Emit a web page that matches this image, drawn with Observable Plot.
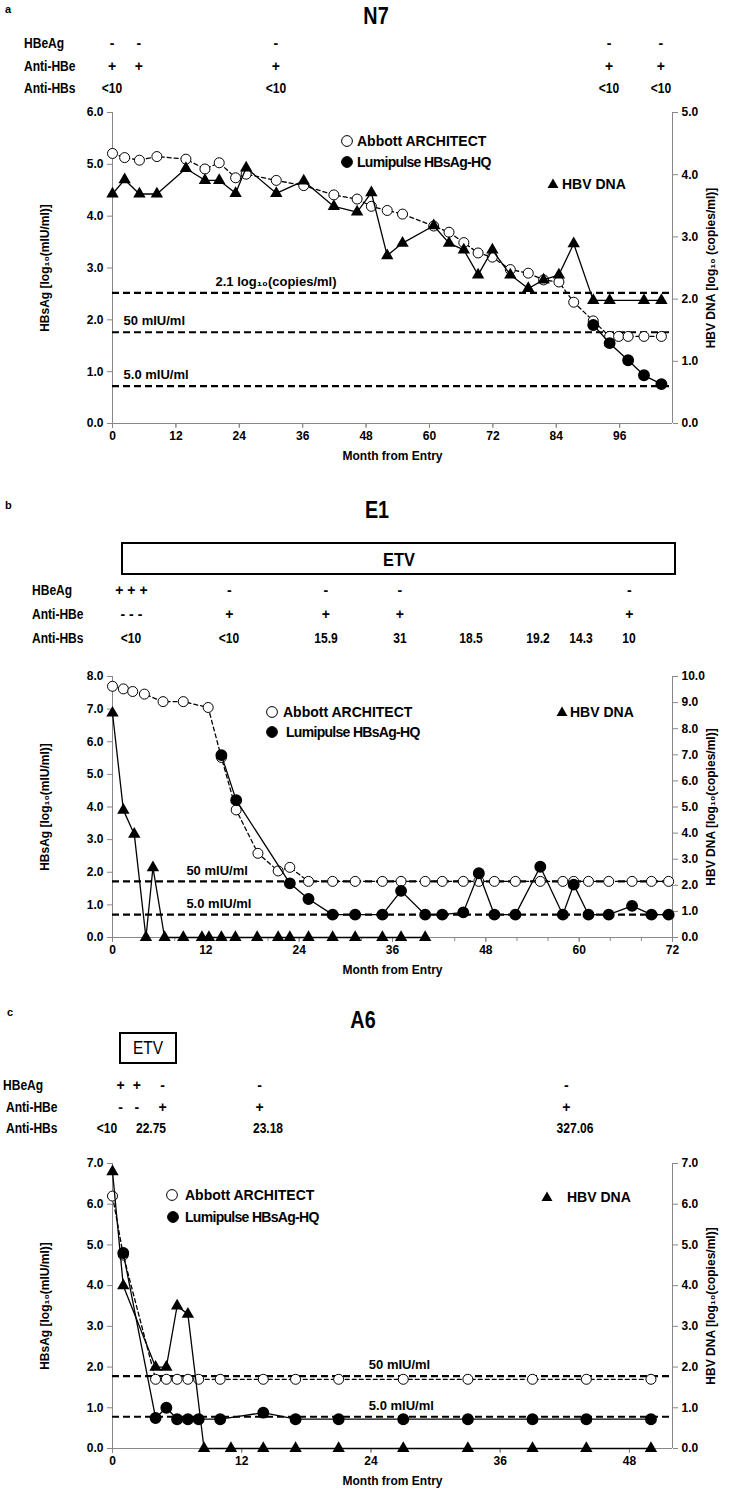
<!DOCTYPE html>
<html><head><meta charset="utf-8">
<script src="https://cdn.jsdelivr.net/npm/d3@7"></script>
<script src="https://cdn.jsdelivr.net/npm/@observablehq/plot@0.6"></script>
<style>
body{margin:0;background:#fff;}
#root{position:relative;width:742px;height:1497px;overflow:hidden;color:#000;}
.t{position:absolute;white-space:nowrap;line-height:1;}
#root > svg{position:absolute;left:0;}
</style></head><body><div id="root"></div><script>
// ---------- Panel a (N7) ----------
const a_month = [0, 2.3, 5.1, 8.4, 13.9, 17.5, 20.2, 23.3, 25.3, 31, 36.2, 41.9, 46.3, 49, 52, 54.9, 60.8, 63.7, 66.5, 69.2, 71.9, 75.3, 78.7, 81.6, 84.5, 87.3, 91, 94.1, 95.8, 97.6, 100.6, 103.9];
const a_abbott = [5.21, 5.13, 5.08, 5.15, 5.10, 4.91, 5.03, 4.74, 4.81, 4.69, 4.59, 4.41, 4.33, 4.19, 4.11, 4.04, 3.81, 3.69, 3.49, 3.29, 3.21, 2.97, 2.90, 2.77, 2.73, 2.34, 1.98, 1.68, 1.68, 1.68, 1.68, 1.68];
const a_lumi_month = [91, 94.1, 97.6, 100.6, 103.9];
const a_lumi = [1.90, 1.55, 1.22, 0.93, 0.76];
const a_dna_month = [0, 2.3, 5.1, 8.4, 13.9, 17.5, 20.2, 23.3, 25.3, 31, 36.2, 41.9, 46.3, 49, 52, 54.9, 60.8, 63.7, 66.5, 69.2, 71.9, 75.3, 78.7, 81.6, 84.5, 87.3, 91, 94.1, 100.6, 103.9];
const a_dna = [3.69, 3.92, 3.69, 3.69, 4.10, 3.91, 3.91, 3.70, 4.11, 3.70, 3.90, 3.49, 3.40, 3.71, 2.70, 2.90, 3.18, 2.90, 2.79, 2.39, 2.79, 2.39, 2.17, 2.31, 2.39, 2.89, 1.98, 1.98, 1.98, 1.98];
const a_hdr_month = [0, 5.1, 31, 94.1, 103.9];
const a_hbeag = ["-", "-", "-", "-", "-"];
const a_antihbe = ["+", "+", "+", "+", "+"];
const a_antihbs = ["<10", "", "<10", "<10", "<10"];
const a_thr_values = [2.52, 1.76, 0.72];
const a_thr_labels = ["2.1 log\u2081\u2080(copies/ml)", "50 mIU/ml", "5.0 mIU/ml"];
const a_thr_label_month = [19.5, 2.1, 2.1];
const a_xticks = [0, 12, 24, 36, 48, 60, 72, 84, 96];
const a_left_ticks = [0, 1, 2, 3, 4, 5, 6];
const a_right_ticks = [0, 1, 2, 3, 4, 5];

// ---------- Panel b (E1) ----------
const b_abbott_month = [0, 1.4, 2.6, 4.1, 6.5, 9.1, 12.3, 14, 15.9, 18.7, 21.3, 22.8, 25.2, 28.3, 31.2, 34.7, 37.1, 40.2, 42.4, 45.1, 47.1, 49.1, 51.8, 55, 57.9, 59.3, 61.2, 63.8, 66.8, 69.3, 71.5];
const b_abbott = [7.70, 7.62, 7.54, 7.46, 7.23, 7.23, 7.05, 5.52, 3.91, 2.58, 2.04, 2.15, 1.72, 1.72, 1.72, 1.72, 1.72, 1.72, 1.72, 1.72, 1.72, 1.72, 1.72, 1.72, 1.72, 1.72, 1.72, 1.72, 1.72, 1.72, 1.72];
const b_lumi_month = [14, 15.9, 22.8, 25.2, 28.3, 31.2, 34.7, 37.1, 40.2, 42.4, 45.1, 47.1, 49.1, 51.8, 55, 57.9, 59.3, 61.2, 63.8, 66.8, 69.3, 71.5];
const b_lumi = [5.59, 4.21, 1.66, 1.18, 0.70, 0.70, 0.70, 1.43, 0.70, 0.70, 0.77, 1.97, 0.70, 0.70, 2.17, 0.70, 1.62, 0.70, 0.70, 0.97, 0.70, 0.70];
const b_dna_month = [0, 1.4, 2.8, 4.3, 5.2, 6.7, 9.1, 11.5, 12.4, 14, 15.8, 18.6, 21.3, 22.8, 25.2, 28.3, 31.2, 34.7, 37.1, 40.2];
const b_dna = [8.6, 4.88, 3.96, 0, 2.68, 0, 0, 0, 0, 0, 0, 0, 0, 0, 0, 0, 0, 0, 0, 0];
const b_hdr_month = [2.5, 15.1, 27.5, 37, 46.2, 54.8, 60.3, 66.5];
const b_hbeag = ["+ + +", "-", "-", "-", "", "", "", "-"];
const b_antihbe = ["- - -", "+", "+", "+", "", "", "", "+"];
const b_antihbs = ["<10", "<10", "15.9", "31", "18.5", "19.2", "14.3", "10"];
const b_etv_span = [1.1, 72.6];
const b_thr_values = [1.72, 0.70];
const b_thr_labels = ["50 mIU/ml", "5.0 mIU/ml"];
const b_thr_label_month = [9.5, 9.5];
const b_xticks = [0, 12, 24, 36, 48, 60, 72];
const b_left_ticks = [0, 1, 2, 3, 4, 5, 6, 7, 8];
const b_right_ticks = [0, 1, 2, 3, 4, 5, 6, 7, 8, 9, 10];

// ---------- Panel c (A6) ----------
const c_abbott_month = [0, 1, 4, 5, 6, 7, 8, 10, 14, 17, 21, 27, 33, 39, 44, 50];
const c_abbott = [6.2, 4.75, 1.7, 1.7, 1.7, 1.7, 1.7, 1.7, 1.7, 1.7, 1.7, 1.7, 1.7, 1.7, 1.7, 1.7];
const c_lumi_month = [1, 4, 5, 6, 7, 8, 10, 14, 17, 21, 27, 33, 39, 44, 50];
const c_lumi = [4.8, 0.75, 1.0, 0.72, 0.72, 0.72, 0.72, 0.88, 0.72, 0.72, 0.72, 0.72, 0.72, 0.72, 0.72];
const c_dna_month = [0, 1, 4, 5, 6, 7, 8.5, 11, 14, 17, 21, 27, 33, 39, 44, 50];
const c_dna = [6.8, 4.0, 2.0, 2.0, 3.5, 3.3, 0, 0, 0, 0, 0, 0, 0, 0, 0, 0];
const c_hbeag_month = [0.8, 2.3, 4.7, 13.7, 42.2];
const c_hbeag = ["+", "+", "-", "-", "-"];
const c_antihbe = ["-", "-", "+", "+", "+"];
const c_antihbs_month = [-0.5, 3.6, 14.5, 43];
const c_antihbs = ["<10", "22.75", "23.18", "327.06"];
const c_etv_span = [0.65, 6];
const c_thr_values = [1.78, 0.78];
const c_thr_labels = ["50 mIU/ml", "5.0 mIU/ml"];
const c_thr_label_month = [23.8, 23.8];
const c_xticks = [0, 12, 24, 36, 48];
const c_left_ticks = [0, 1, 2, 3, 4, 5, 6, 7];
const c_right_ticks = [0, 1, 2, 3, 4, 5, 6, 7];

const FONT = '"Liberation Sans",Arial,sans-serif';
const root = document.getElementById("root");

function txt(s, x, y, o = {}) {
  const d = document.createElement("div");
  d.className = "t";
  d.textContent = s;
  d.style.left = x + "px";
  d.style.top = y + "px";
  d.style.fontSize = (o.size || 13) + "px";
  d.style.fontWeight = o.weight || "bold";
  d.style.fontFamily = FONT;
  if (o.ls) d.style.letterSpacing = o.ls;
  const sx = o.sx || 1;
  const start = o.anchor === "start";
  d.style.transformOrigin = start ? "0 50%" : "50% 50%";
  d.style.transform = `translate(${start ? "0" : "-50%"},-50%) scaleX(${sx})`;
  root.appendChild(d);
  return d;
}
function marker(kind, x, y) {
  const ns = "http://www.w3.org/2000/svg";
  const s = document.createElementNS(ns, "svg");
  s.setAttribute("width", 14); s.setAttribute("height", 14);
  s.style.position = "absolute"; s.style.left = (x - 7) + "px"; s.style.top = (y - 7) + "px";
  let el;
  if (kind === "tri") {
    el = document.createElementNS(ns, "polygon");
    el.setAttribute("points", "7,1.5 12.5,11 1.5,11");
    el.setAttribute("fill", "black");
  } else {
    el = document.createElementNS(ns, "circle");
    el.setAttribute("cx", 7); el.setAttribute("cy", 7); el.setAttribute("r", 5.4);
    el.setAttribute("fill", kind === "open" ? "white" : "black");
    el.setAttribute("stroke", "black"); el.setAttribute("stroke-width", 1);
  }
  s.appendChild(el);
  root.appendChild(s);
}
function box(x0, x1, y0, y1, bw) {
  const d = document.createElement("div");
  d.style.position = "absolute";
  d.style.left = x0 + "px"; d.style.top = y0 + "px";
  d.style.width = (x1 - x0 - 2 * bw) + "px"; d.style.height = (y1 - y0 - 2 * bw) + "px";
  d.style.border = bw + "px solid black";
  root.appendChild(d);
}

function panel(cfg) {
  const abbott = cfg.abbottM.map((m, i) => ({m, v: cfg.abbott[i]}));
  const lumi = cfg.lumiM.map((m, i) => ({m, v: cfg.lumi[i]}));
  const dna = cfg.dnaM.map((m, i) => ({m, v: cfg.dna[i] * cfg.factor}));
  const thr = cfg.thrV.map((v, i) => ({v, m: cfg.thrM[i], t: cfg.thrL[i]}));
  const H = 12 + cfg.plotH + 44;
  const minor = d3.range(cfg.xDomain[0], cfg.xDomain[1] + 0.001, cfg.minorStep);
  const plot = Plot.plot({
    width: 742, height: H,
    marginLeft: 112, marginRight: 70, marginTop: 12, marginBottom: 44,
    x: {domain: cfg.xDomain},
    y: {domain: [0, cfg.yMax]},
    style: {fontFamily: FONT, fontSize: "11px", fontWeight: "bold", overflow: "visible", background: "transparent", color: "black"},
    marks: [
      Plot.axisX({ticks: minor, tickSize: 4, tickFormat: () => "", stroke: "#888", label: null}),
      Plot.axisX({ticks: cfg.xTicks, tickSize: 5, tickPadding: 3, stroke: "#888", fontSize: 12, label: "Month from Entry", labelAnchor: "center", labelOffset: 36, labelArrow: "none"}),
      Plot.axisY({ticks: cfg.leftTicks, tickFormat: d => d.toFixed(1), tickSize: 5, stroke: "#888", fontSize: 12, label: cfg.leftLabel, labelAnchor: "center", labelOffset: 72, labelArrow: "none"}),
      Plot.axisY({anchor: "right", ticks: cfg.rightTicks.map(v => v * cfg.factor), tickFormat: d => (d / cfg.factor).toFixed(1), tickSize: 5, stroke: "#888", fontSize: 12, label: cfg.rightLabel, labelAnchor: "center", labelOffset: 42, labelArrow: "none"}),
      Plot.ruleY([0], {stroke: "#888"}),
      Plot.ruleX(cfg.xDomain, {stroke: "#888"}),
      Plot.ruleY(thr, {y: "v", stroke: "black", strokeWidth: 2.2, strokeDasharray: "7,4"}),
      Plot.text(thr, {x: "m", y: "v", text: "t", dy: -11, textAnchor: "start", fontSize: 13}),
      Plot.line(abbott, {x: "m", y: "v", stroke: "black", strokeWidth: 1.3, strokeDasharray: "4,3"}),
      Plot.dot(abbott, {x: "m", y: "v", r: 5, fill: "white", stroke: "black", strokeWidth: 1}),
      Plot.line(lumi, {x: "m", y: "v", stroke: "black", strokeWidth: 1.3}),
      Plot.dot(lumi, {x: "m", y: "v", r: 5.2, fill: "black", stroke: "black"}),
      Plot.line(dna, {x: "m", y: "v", stroke: "black", strokeWidth: 1.3}),
      Plot.dot(dna, {x: "m", y: "v", symbol: "triangle", r: 4.6, fill: "black", stroke: "none"})
    ]
  });
  plot.style.top = (cfg.top - 12) + "px";
  root.appendChild(plot);
  const xs = plot.scale("x");
  return m => xs.apply(m);
}

const CX = 0.86; // condensed look of the original lettering
const HS = 14;   // header font size

// ---- Panel a ----
const xa = panel({
  top: 112, plotH: 311, xDomain: [0, 106], xTicks: a_xticks, minorStep: 12, yMax: 6, factor: 6 / 5,
  leftTicks: a_left_ticks, rightTicks: a_right_ticks,
  leftLabel: "HBsAg [log\u2081\u2080(mIU/ml)]", rightLabel: "HBV DNA [log\u2081\u2080 (copies/ml)]",
  abbottM: a_month, abbott: a_abbott, lumiM: a_lumi_month, lumi: a_lumi, dnaM: a_dna_month, dna: a_dna,
  thrV: a_thr_values, thrM: a_thr_label_month, thrL: a_thr_labels
});
txt("a", 5, 9, {size: 11, anchor: "start"});
txt("N7", 376, 16, {size: 23, sx: CX});
txt("HBeAg", 24, 43, {size: HS, anchor: "start", sx: CX});
txt("Anti-HBe", 24, 66, {size: HS, anchor: "start", sx: CX});
txt("Anti-HBs", 24, 88, {size: HS, anchor: "start", sx: CX});
a_hdr_month.forEach((m, i) => {
  txt(a_hbeag[i], xa(m), 43, {size: HS});
  txt(a_antihbe[i], xa(m), 66, {size: HS});
  if (a_antihbs[i]) txt(a_antihbs[i], xa(m), 88, {size: HS, sx: CX});
});
marker("open", 347, 141); txt("Abbott ARCHITECT", 357, 141, {size: 14, anchor: "start"});
marker("fill", 347, 162); txt("Lumipulse HBsAg-HQ", 357, 162, {size: 14, anchor: "start", ls: "-0.7px"});
marker("tri", 553, 184); txt("HBV DNA", 562, 184, {size: 14, anchor: "start"});

// ---- Panel b ----
const xb = panel({
  top: 676, plotH: 261, xDomain: [0, 72], xTicks: b_xticks, minorStep: 4, yMax: 8, factor: 8 / 10,
  leftTicks: b_left_ticks, rightTicks: b_right_ticks,
  leftLabel: "HBsAg [log\u2081\u2080(mIU/ml)]", rightLabel: "HBV DNA [log\u2081\u2080(copies/ml)]",
  abbottM: b_abbott_month, abbott: b_abbott, lumiM: b_lumi_month, lumi: b_lumi, dnaM: b_dna_month, dna: b_dna,
  thrV: b_thr_values, thrM: b_thr_label_month, thrL: b_thr_labels
});
txt("b", 5, 505, {size: 11, anchor: "start"});
txt("E1", 377, 510, {size: 23, sx: CX});
box(xb(b_etv_span[0]), xb(b_etv_span[1]), 542, 576, 2.5);
txt("ETV", (xb(b_etv_span[0]) + xb(b_etv_span[1])) / 2, 559, {size: 19, sx: CX});
txt("HBeAg", 32, 590, {size: HS, anchor: "start", sx: CX});
txt("Anti-HBe", 32, 614, {size: HS, anchor: "start", sx: CX});
txt("Anti-HBs", 32, 638, {size: HS, anchor: "start", sx: CX});
b_hdr_month.forEach((m, i) => {
  if (b_hbeag[i]) txt(b_hbeag[i], xb(m), 590, {size: HS});
  if (b_antihbe[i]) txt(b_antihbe[i], xb(m), 614, {size: HS});
  if (b_antihbs[i]) txt(b_antihbs[i], xb(m), 638, {size: HS, sx: CX});
});
marker("open", 272, 712); txt("Abbott  ARCHITECT", 283, 712, {size: 14, anchor: "start"});
marker("fill", 272, 732); txt("Lumipulse HBsAg-HQ", 286, 732, {size: 14, anchor: "start", ls: "-0.7px"});
marker("tri", 562, 712); txt("HBV DNA", 570, 712, {size: 14, anchor: "start"});

// ---- Panel c ----
const xc = panel({
  top: 1163, plotH: 285, xDomain: [0, 52], xTicks: c_xticks, minorStep: 12, yMax: 7, factor: 1,
  leftTicks: c_left_ticks, rightTicks: c_right_ticks,
  leftLabel: "HBsAg [log\u2081\u2080(mIU/ml)]", rightLabel: "HBV DNA [log\u2081\u2080(copies/ml)]",
  abbottM: c_abbott_month, abbott: c_abbott, lumiM: c_lumi_month, lumi: c_lumi, dnaM: c_dna_month, dna: c_dna,
  thrV: c_thr_values, thrM: c_thr_label_month, thrL: c_thr_labels
});
txt("c", 7, 1012, {size: 11, anchor: "start"});
txt("A6", 363, 1020, {size: 23, sx: CX});
box(xc(c_etv_span[0]), xc(c_etv_span[1]), 1032, 1064, 2);
txt("ETV", (xc(c_etv_span[0]) + xc(c_etv_span[1])) / 2, 1048, {size: 18, weight: "normal", sx: CX});
txt("HBeAg", 3, 1085, {size: HS, anchor: "start", sx: CX});
txt("Anti-HBe", 6, 1107, {size: HS, anchor: "start", sx: CX});
txt("Anti-HBs", 6, 1128, {size: HS, anchor: "start", sx: CX});
c_hbeag_month.forEach((m, i) => {
  txt(c_hbeag[i], xc(m), 1085, {size: HS});
  txt(c_antihbe[i], xc(m), 1107, {size: HS});
});
c_antihbs_month.forEach((m, i) => txt(c_antihbs[i], xc(m), 1128, {size: HS, sx: CX}));
marker("open", 172, 1195); txt("Abbott ARCHITECT", 185, 1195, {size: 14, anchor: "start"});
marker("fill", 173, 1217); txt("Lumipulse HBsAg-HQ", 185, 1217, {size: 14, anchor: "start", ls: "-0.7px"});
marker("tri", 547, 1197); txt("HBV DNA", 567, 1197, {size: 14, anchor: "start"});
</script></body></html>
